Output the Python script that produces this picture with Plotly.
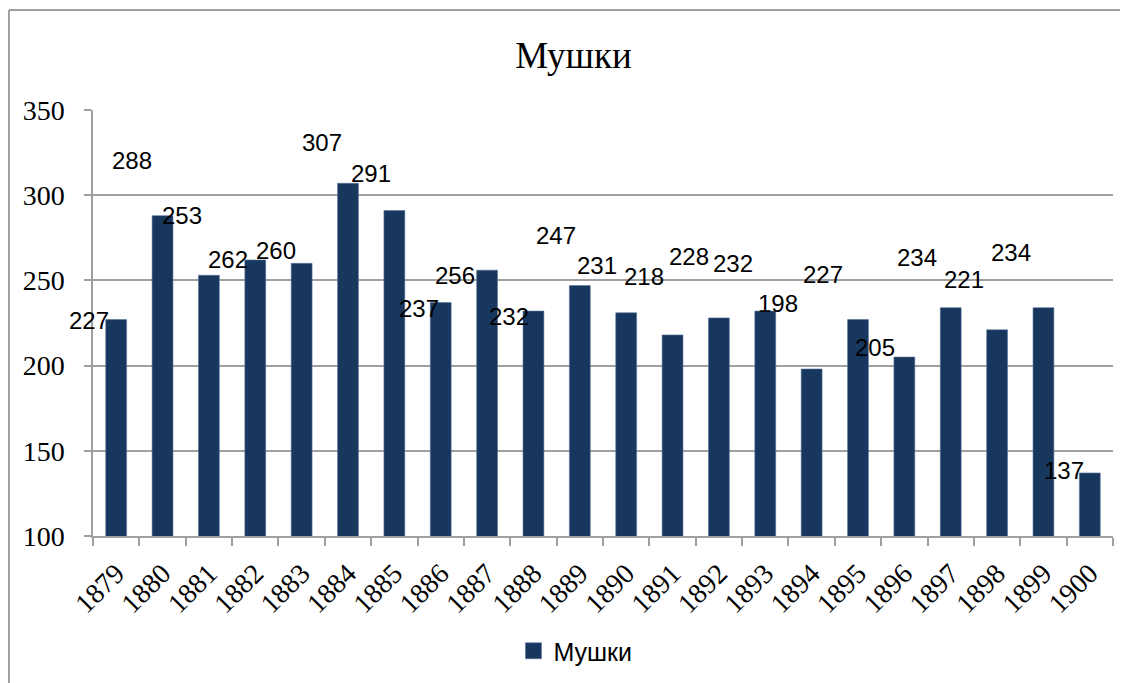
import plotly.graph_objects as go

years = [str(y) for y in range(1879, 1901)]
values = [227, 288, 253, 262, 260, 307, 291, 237, 256, 232, 247, 231, 218, 228, 232, 198, 227, 205, 234, 221, 234, 137]
series_name = "Мушки"
title_text = "Мушки"
y_ticks = [100, 150, 200, 250, 300, 350]

# label offsets in pixels relative to each bar's top (manually dragged labels)
label_dx = [-27, -31, -27, -27, -26, -26, -23, -22, -32, -24, -24, -29, -29, -30, -32, -34, -35, -29, -34, -33, -32, -26]
label_dy = [-1, 55, 60, 0, 13, 41, 37, -6, -5, -5, 50, 47, 58, 61, 48, 66, 45, 10, 50, 50, 55, 2]

bar_color = "#17375E"
fig = go.Figure()
fig.add_trace(go.Bar(
    x=years, y=values, name=series_name,
    marker=dict(color=bar_color, line=dict(color="#5a7399", width=0.6)),
    showlegend=False,
))
# legend entry with a larger square swatch
fig.add_trace(go.Scatter(
    x=[None], y=[None], mode="markers", name=series_name,
    marker=dict(symbol="square", size=16, color=bar_color, line=dict(color="#5a7399", width=0.6)),
    showlegend=True, hoverinfo="skip",
))

for i, (v, dx, dy) in enumerate(zip(values, label_dx, label_dy)):
    fig.add_annotation(
        x=i, y=v, text=str(v), showarrow=False,
        xanchor="center", yanchor="middle",
        xshift=dx, yshift=dy,
        font=dict(family="Liberation Sans", size=24, color="#000000"),
    )

W, H = 1120, 675
L, T, PW, PH = 85, 102, 1020, 426
grid = "#A0A0A0"
fig.update_layout(
    width=W, height=H,
    margin=dict(l=L, r=W - L - PW, t=T, b=H - T - PH, autoexpand=False),
    paper_bgcolor="white", plot_bgcolor="white",
    bargap=0.55,
    title=dict(text=title_text, x=565.5 / W, xref="container", xanchor="center",
               y=1 - 47 / H, yref="container", yanchor="middle",
               font=dict(family="Liberation Serif", size=37, color="#000000")),
    xaxis=dict(
        type="category", range=[-0.5, len(years) - 0.5], tickangle=-45, tickson="boundaries",
        ticks="outside", ticklen=8, tickcolor=grid, tickwidth=1.5,
        showline=True, linecolor=grid, linewidth=1.5,
        showgrid=False, ticklabelstandoff=8,
        tickfont=dict(family="Liberation Serif", size=28, color="#000000"),
    ),
    yaxis=dict(
        range=[100, 350], tickvals=y_ticks,
        ticks="outside", ticklen=7, tickcolor=grid, tickwidth=1.5,
        showline=True, linecolor=grid, linewidth=1.5,
        showgrid=True, gridcolor=grid, gridwidth=1.5,
        zeroline=False, ticklabelstandoff=14,
        tickfont=dict(family="Liberation Serif", size=28, color="#000000"),
    ),
    legend=dict(orientation="h", x=0.473, xanchor="center", y=-0.27, yanchor="middle",
                font=dict(family="Liberation Sans", size=25, color="#000000"),
                itemwidth=30),
)

# outer chart frame (top and left edges visible)
frame_top = (PH + T - 2) / PH
frame_left = (1 - L) / PW
fig.add_shape(type="line", xref="paper", yref="paper",
              x0=frame_left, x1=1.2, y0=frame_top, y1=frame_top,
              line=dict(color="#A0A0A0", width=2))
fig.add_shape(type="line", xref="paper", yref="paper",
              x0=frame_left, x1=frame_left, y0=frame_top, y1=-0.5,
              line=dict(color="#A0A0A0", width=2))

fig.write_html("out.html")
